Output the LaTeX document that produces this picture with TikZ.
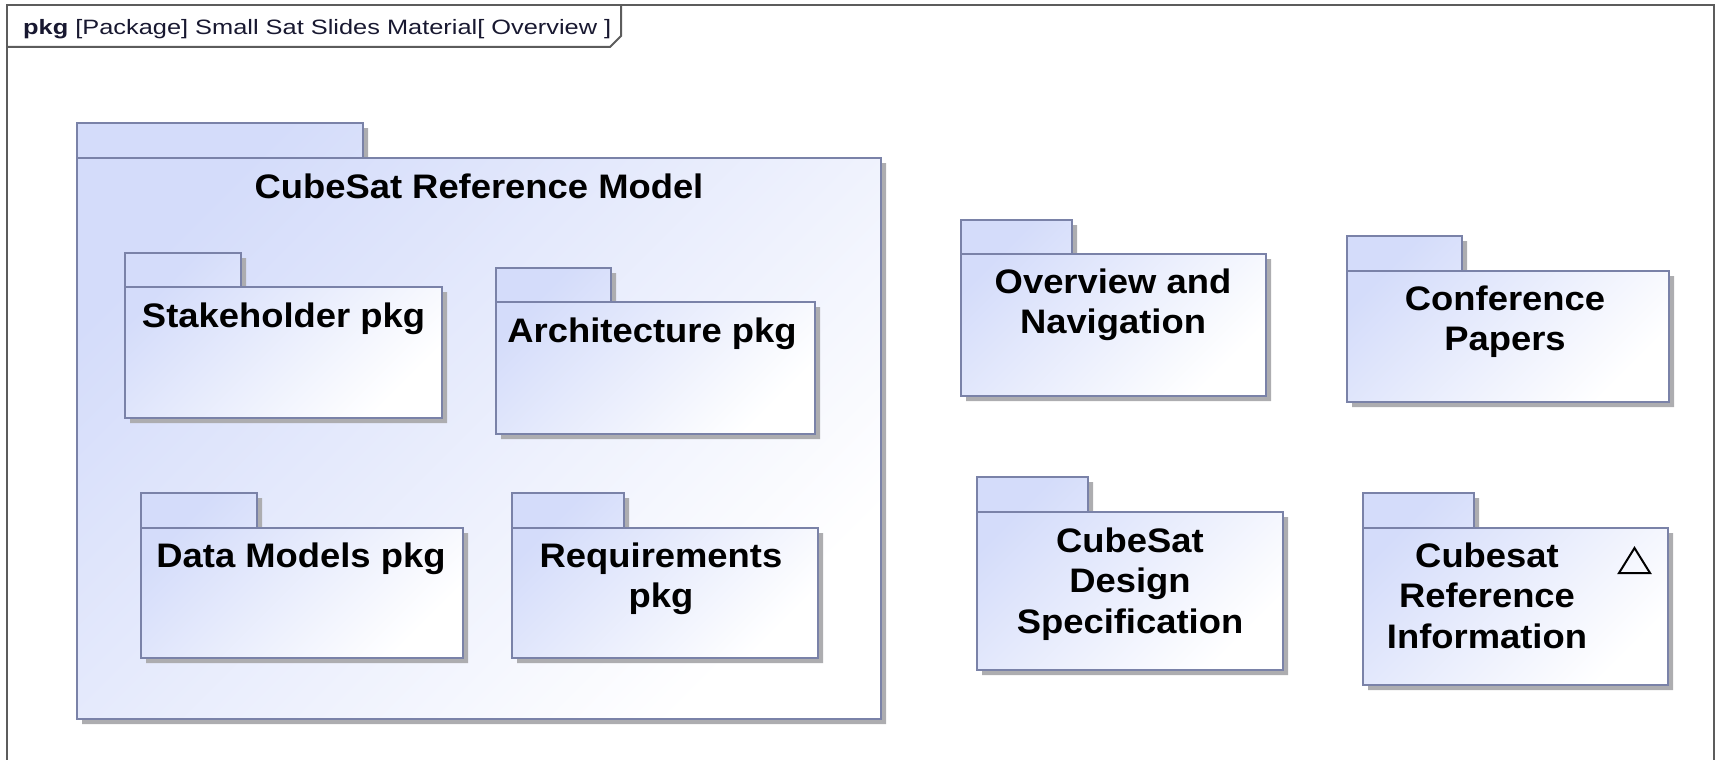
\documentclass[tikz,border=0pt]{standalone}
\usepackage{fontspec}
\setmainfont{Liberation Sans}
\newfontfamily\pkgfont[FakeStretch=1.07]{Liberation Sans}
\newfontfamily\hdrfont[FakeStretch=1.22]{Liberation Sans}

\definecolor{pkgfill}{HTML}{D4DCFA}
\definecolor{pkgline}{HTML}{7A82A8}
\definecolor{pkgshadow}{HTML}{ADADB0}
\definecolor{framecol}{HTML}{5C5C5C}
\definecolor{hdrtext}{HTML}{181830}

\tikzset{
  pkgshade/.style={top color=pkgfill, bottom color=white, shading angle=45},
  pkgedge/.style={draw=pkgline, line width=2},
  pkglabel/.style={anchor=base, inner sep=0, text=black,
    font=\pkgfont\bfseries\fontsize{34}{40.5}\selectfont},
  frameedge/.style={draw=framecol, line width=2},
}

% multi-line centred label whose baseline is that of its first line
\newcommand\labellines[1]{\begin{tabular}[t]{@{}c@{}}#1\end{tabular}}

% UML package: name, left, tab top, tab right, body top, right, bottom
\newcommand\umlpkg[7]{%
  \fill[pkgshadow] (#2+5,#3+5) -- (#4+5,#3+5) -- (#4+5,#5+5) -- (#6+5,#5+5)
      -- (#6+5,#7+5) -- (#2+5,#7+5) -- cycle;
  \path[pkgshade] (#2,#3) -- (#4,#3) -- (#4,#5) -- (#6,#5)
      -- (#6,#7) -- (#2,#7) -- cycle;
  \draw[pkgedge, line join=miter] (#2,#3) -- (#4,#3) -- (#4,#5) -- (#6,#5)
      -- (#6,#7) -- (#2,#7) -- cycle;
  \draw[pkgedge] (#2,#5) -- (#4,#5);
  \coordinate (#1) at ({(#2+#6)/2},#5);
}

\begin{document}
\begin{tikzpicture}[x=1pt, y=-1pt]
\useasboundingbox (0,0) rectangle (1717,760);

% diagram frame (runs past the lower edge) and its name tab
\draw[frameedge] (7,762) -- (7,5) -- (1714,5) -- (1714,762);
\draw[frameedge] (7,47) -- (610,47) -- (621,36) -- (621,5);
\node[anchor=base west, inner sep=0, text=hdrtext,
      font=\hdrfont\fontsize{20.8}{24}\selectfont] (hdr) at (23,35)
  {\textbf{pkg} [Package] Small Sat Slides Material[ Overview ]};

% enclosing package
\umlpkg{crm}{77}{123}{363}{158}{881}{719}
\node[pkglabel] (crm-title) at (479,198) {CubeSat Reference Model};

% nested packages
\umlpkg{stake}{125}{253}{241}{287}{442}{418}
\node[pkglabel] (stake-label) at (283.5,327) {Stakeholder pkg};

\umlpkg{arch}{496}{268}{611}{302}{815}{434}
\node[pkglabel] (arch-label) at (652,342) {Architecture pkg};

\umlpkg{data}{141}{493}{257}{528}{463}{658}
\node[pkglabel] (data-label) at (301,567) {Data Models pkg};

\umlpkg{req}{512}{493}{624}{528}{818}{658}
\node[pkglabel] (req-label) at (661,567) {\labellines{Requirements\\pkg}};

% top-level packages on the right
\umlpkg{nav}{961}{220}{1072}{254}{1266}{396}
\node[pkglabel] (nav-label) at (1113,293) {\labellines{Overview and\\Navigation}};

\umlpkg{conf}{1347}{236}{1462}{271}{1669}{402}
\node[pkglabel] (conf-label) at (1505,310) {\labellines{Conference\\Papers}};

\umlpkg{cds}{977}{477}{1088}{512}{1283}{670}
\node[pkglabel] (cds-label) at (1130,552) {\labellines{CubeSat\\Design\\Specification}};

\umlpkg{cri}{1363}{493}{1474}{528}{1668}{685}
\node[pkglabel] (cri-label) at (1487,567) {\labellines{Cubesat\\Reference\\Information}};
\draw[line width=2, line join=miter] (1619,573) -- (1634.5,548) -- (1650,573) -- cycle;

\end{tikzpicture}
\end{document}
